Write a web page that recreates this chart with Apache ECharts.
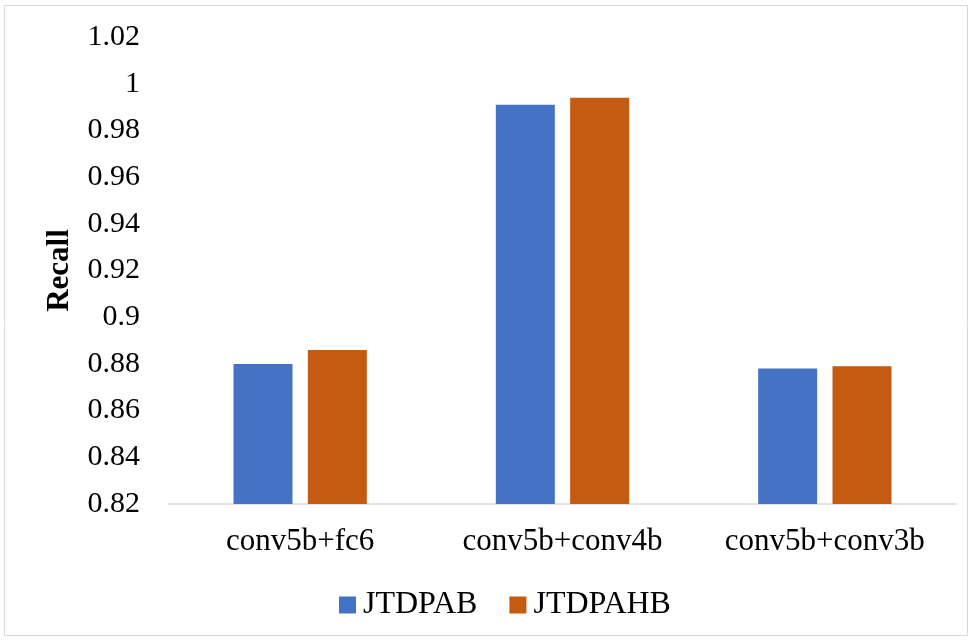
<!DOCTYPE html>
<html><head><meta charset="utf-8">
<script src="https://cdn.jsdelivr.net/npm/echarts@6/dist/echarts.min.js"></script>
<style>html,body{margin:0;padding:0;background:#fff}#c{width:972px;height:641px}</style>
</head><body><div id="c"></div>
<script>
const categories = ['conv5b+fc6', 'conv5b+conv4b', 'conv5b+conv3b'];
const jtdpab = [0.880, 0.991, 0.878];
const jtdpahb = [0.886, 0.994, 0.879];
const seriesNames = ['JTDPAB', 'JTDPAHB'];
const font = 'Liberation Serif, Times New Roman, serif';
const chart = echarts.init(document.getElementById('c'));
chart.setOption({
  animation: false,
  textStyle: {fontFamily: font},
  graphic: [{type: 'rect', shape: {x: 4.5, y: 5.5, width: 963, height: 630}, style: {fill: 'none', stroke: '#d9d9d9', lineWidth: 1}, silent: true}],
  grid: {left: 169, right: 16, top: 37, bottom: 137},
  legend: {
    top: 584, left: 334, itemWidth: 17, itemHeight: 17, itemGap: 32,
    icon: 'rect',
    textStyle: {fontFamily: font, fontSize: 32, color: '#000', padding: [0, 0, 0, 2]},
    data: seriesNames
  },
  xAxis: {
    type: 'category', data: categories,
    axisLine: {lineStyle: {color: '#d9d9d9', width: 1.5}},
    axisTick: {show: false},
    axisLabel: {fontFamily: font, fontSize: 31, color: '#000', margin: 22}
  },
  yAxis: {
    type: 'value', min: 0.82, max: 1.02, interval: 0.02,
    name: 'Recall', nameLocation: 'middle', nameGap: 94, nameRotate: 90,
    nameTextStyle: {fontFamily: font, fontSize: 31, fontWeight: 'bold', color: '#000'},
    axisLine: {show: false}, axisTick: {show: false},
    splitLine: {show: false},
    axisLabel: {fontFamily: font, fontSize: 30, color: '#000', margin: 29,
      formatter: v => { const r = Math.round(v * 100) / 100; return String(r); }}
  },
  series: [
    {name: seriesNames[0], type: 'bar', data: jtdpab, barWidth: 59, barGap: '26%', itemStyle: {color: '#4472C4'}},
    {name: seriesNames[1], type: 'bar', data: jtdpahb, barWidth: 59, itemStyle: {color: '#C55A11'}}
  ]
});
</script></body></html>
